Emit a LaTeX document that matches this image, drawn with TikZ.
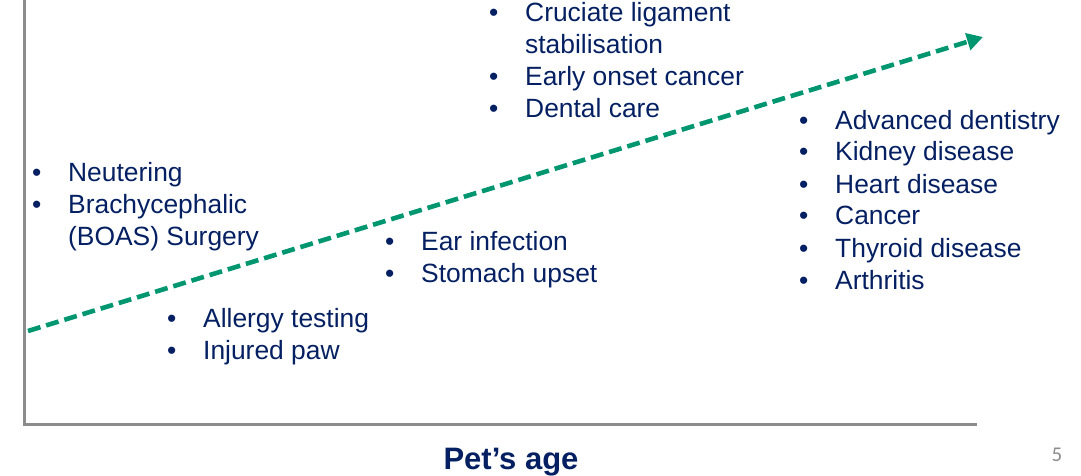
\documentclass[tikz,border=0pt]{standalone}
\usepackage{fontspec}
\setmainfont{Liberation Sans}
\newfontfamily\pagefont{Carlito}
\usepackage{xcolor}
\usetikzlibrary{arrows.meta, positioning}
\definecolor{mynavy}{RGB}{5, 32, 98}
\definecolor{mygreen}{RGB}{0, 150, 112}
\definecolor{mygray}{RGB}{140, 140, 140}
\newcommand{\bulletlist}[1]{\begin{tabular}[t]{@{}p{36pt}@{}l@{}}#1\end{tabular}}

\begin{document}
\begin{tikzpicture}[x=1pt,y=-1pt,
    items/.style={mynavy,anchor=base west,inner sep=0pt,font=\fontsize{26.4}{32}\selectfont}]
        \useasboundingbox (0,0) rectangle (1081,476);
        \coordinate (top) at (24,0);
        \coordinate (origin) at (24,424);
        \coordinate (right) at (977,424);
        \draw[mygray,line width=3pt](top)--(origin)--(right);
        \coordinate (young) at (28,331);
        \coordinate (old) at (983,37);
        \draw[mygreen,line width=4.6pt,dash pattern=on 13pt off 6pt,-{Triangle[length=16pt,width=17pt]}](young)--(old);
        \node[items] (puppy) at (32,181){\bulletlist{\textbullet & Neutering\\ \textbullet & Brachycephalic\\ & (BOAS) Surgery}};
        \node[items] (young1) at (167,327){\bulletlist{\textbullet & Allergy testing\\ \textbullet & Injured paw}};
        \node[items] (young2) at (385,250){\bulletlist{\textbullet & Ear infection\\ \textbullet & Stomach upset}};
        \node[items] (adult) at (489,22){\bulletlist{\textbullet & Cruciate ligament\\ & stabilisation\\ \textbullet & Early onset cancer\\ \textbullet & Dental care}};
        \node[items] (senior) at (799,129){\bulletlist{\textbullet & Advanced dentistry\\ \textbullet & Kidney disease\\ \textbullet & Heart disease\\ \textbullet & Cancer\\ \textbullet & Thyroid disease\\ \textbullet & Arthritis}};
        \node[mynavy,anchor=base,inner sep=0pt,font=\fontsize{31}{36}\selectfont\bfseries] (xlabel) at (511,469){Pet’s age};
        \node[mygray,anchor=base,inner sep=0pt,font=\pagefont\fontsize{21}{24}\selectfont] (page) at (1057,461){5};
      \end{tikzpicture}
\end{document}
